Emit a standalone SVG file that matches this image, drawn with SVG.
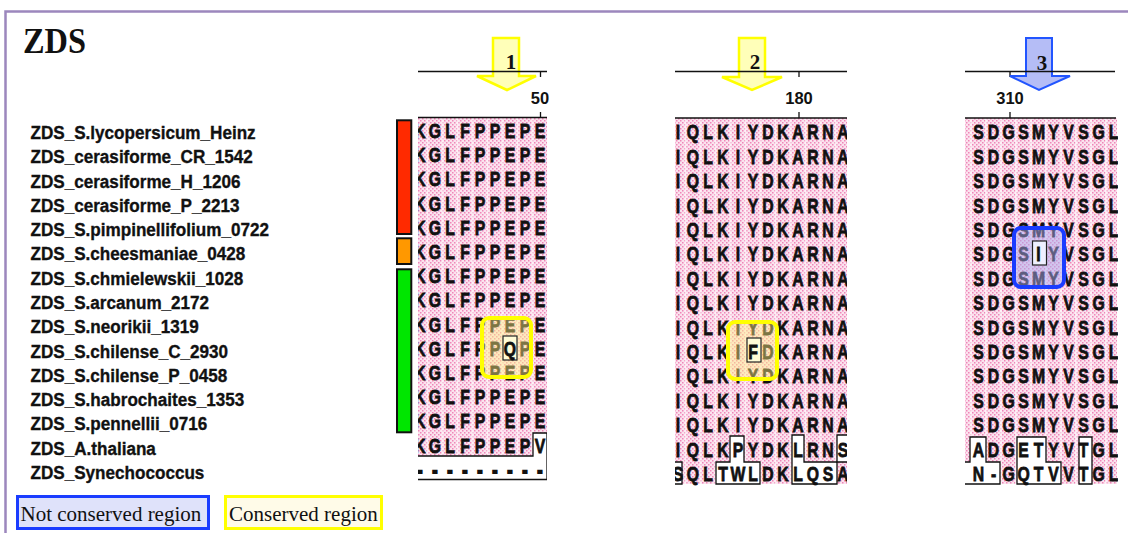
<svg xmlns="http://www.w3.org/2000/svg" width="1128" height="533" viewBox="0 0 1128 533">
<defs>
<style>
.ttl{font-family:"Liberation Serif","DejaVu Serif","Times New Roman",serif;font-weight:bold;font-size:36px;fill:#111}
.lab{font-family:"Liberation Sans",Arial,sans-serif;font-weight:bold;font-size:18.5px;fill:#111;stroke:#111;stroke-width:0.35}
.aa{font-family:"Liberation Sans",Arial,sans-serif;font-weight:bold;font-size:21px;fill:#111;stroke:#111;stroke-width:0.8;text-anchor:middle}
.dash{stroke-width:1.8}
.num{font-family:"Liberation Sans",Arial,sans-serif;font-weight:bold;font-size:16.5px;fill:#111;text-anchor:middle}
.an{font-family:"Liberation Serif","Times New Roman",serif;font-weight:bold;font-size:21px;fill:#111;text-anchor:middle}
.leg{font-family:"Liberation Serif","Times New Roman",serif;font-size:21px;fill:#111}
.ln{stroke:#111;stroke-width:1.3;fill:none}
.wb{fill:#fff;stroke:#111;stroke-width:1.3}
.st{stroke:#fff;stroke-opacity:.55;stroke-width:2}
.yb{fill:#ffef80;fill-opacity:.45;stroke:#ffff00;stroke-width:4}
.bb{fill:#a8a8ee;fill-opacity:.5;stroke:#1a3cff;stroke-width:4}
.ib{stroke:#222;stroke-width:1.2}
.bar{stroke:#111;stroke-width:2}
.ya{fill:#ffffa8;fill-opacity:.8;stroke:#ffff00;stroke-width:2.5}
.ba{fill:#a8b2f5;fill-opacity:.85;stroke:#2255ff;stroke-width:2}
</style>
<pattern id="pk" width="4" height="4" patternUnits="userSpaceOnUse"><rect width="4" height="4" fill="#fbe3ee"/><rect width="1.5" height="1.5" fill="#ef86b9"/><rect x="2" y="2" width="1.5" height="1.5" fill="#ef86b9"/></pattern>
<clipPath id="c1"><rect x="418" y="100" width="129" height="400"/></clipPath>
<clipPath id="c2"><rect x="675" y="100" width="172" height="400"/></clipPath>
<clipPath id="c3"><rect x="965" y="100" width="153" height="400"/></clipPath>
</defs>
<rect width="1128" height="533" fill="#fff"/>
<rect id="frame" x="5.5" y="11.5" width="1140" height="540" fill="none" stroke="#9c87bd" stroke-width="2.5"/>
<g id="title" transform="translate(23,53) scale(0.9,1)"><text class="ttl" x="0" y="0">ZDS</text></g>

<g id="labels" transform="scale(0.925,1)" class="lab">
<text x="33" y="139">ZDS_S.lycopersicum_Heinz</text>
<text x="33" y="163.3">ZDS_cerasiforme_CR_1542</text>
<text x="33" y="187.6">ZDS_cerasiforme_H_1206</text>
<text x="33" y="211.9">ZDS_cerasiforme_P_2213</text>
<text x="33" y="236.2">ZDS_S.pimpinellifolium_0722</text>
<text x="33" y="260.5">ZDS_S.cheesmaniae_0428</text>
<text x="33" y="284.7">ZDS_S.chmielewskii_1028</text>
<text x="33" y="309">ZDS_S.arcanum_2172</text>
<text x="33" y="333.3">ZDS_S.neorikii_1319</text>
<text x="33" y="357.6">ZDS_S.chilense_C_2930</text>
<text x="33" y="381.9">ZDS_S.chilense_P_0458</text>
<text x="33" y="406.2">ZDS_S.habrochaites_1353</text>
<text x="33" y="430.5">ZDS_S.pennellii_0716</text>
<text x="33" y="454.8">ZDS_A.thaliana</text>
<text x="33" y="479.1">ZDS_Synechococcus</text>
</g>

<g id="bars">
<rect class="bar" x="397" y="120.3" width="14.3" height="113.7" fill="#ff2a00"/>
<rect class="bar" x="397" y="238.3" width="14.3" height="25.7" fill="#ff9800"/>
<rect class="bar" x="397" y="269.3" width="14.3" height="163" fill="#00e600"/>
</g>

<g id="block1">
<g clip-path="url(#c1)">
<rect x="418" y="117.5" width="129" height="338.5" fill="url(#pk)"/>
<path class="st" d="M427.5,118V456M442.5,118V456M457.5,118V456M472.5,118V456M487.5,118V456M502.5,118V456M517.5,118V456M532.5,118V456"/>
<path class="wb" d="M418,456 H533 V433 H547 V479.5 H418"/>
<g class="aa" transform="scale(0.75,1)">
<text x="560 580 600 620 640 660 680 700 720" y="138">KGLFPPEPE</text>
<text x="560 580 600 620 640 660 680 700 720" y="162.2">KGLFPPEPE</text>
<text x="560 580 600 620 640 660 680 700 720" y="186.4">KGLFPPEPE</text>
<text x="560 580 600 620 640 660 680 700 720" y="210.6">KGLFPPEPE</text>
<text x="560 580 600 620 640 660 680 700 720" y="234.8">KGLFPPEPE</text>
<text x="560 580 600 620 640 660 680 700 720" y="259">KGLFPPEPE</text>
<text x="560 580 600 620 640 660 680 700 720" y="283.2">KGLFPPEPE</text>
<text x="560 580 600 620 640 660 680 700 720" y="307.4">KGLFPPEPE</text>
<text x="560 580 600 620 640 660 680 700 720" y="331.6">KGLFPPEPE</text>
<text x="560 580 600 620 640 660" y="355.8">KGLFPP</text>
<text x="700 720" y="355.8">PE</text>
<text x="560 580 600 620 640 660 680 700 720" y="380">KGLFPPEPE</text>
<text x="560 580 600 620 640 660 680 700 720" y="404.2">KGLFPPEPE</text>
<text x="560 580 600 620 640 660 680 700 720" y="428.4">KGLFPPEPE</text>
<text x="560 580 600 620 640 660 680 700 720" y="452.6">KGLFPPEPV</text>
<text class="dash" x="560 580 600 620 640 660 680 700 720" y="476.8">---------</text>
</g>
</g>
<line class="ln" x1="418" y1="117.5" x2="547" y2="117.5"/>
<rect class="yb" x="482" y="318" width="49" height="59" rx="7"/>
<rect class="ib" x="503" y="336" width="14" height="24" fill="#fffbd6"/>
<text class="aa" transform="scale(0.75,1)" x="680" y="355.8">Q</text>
<line class="ln" x1="540.5" y1="71.5" x2="540.5" y2="77"/>
<line class="ln" x1="540.5" y1="112" x2="540.5" y2="117.5"/>
<text class="num" x="540" y="104">50</text>
</g>

<g id="block2">
<g clip-path="url(#c2)">
<rect x="675" y="118" width="172" height="366" fill="url(#pk)"/>
<path class="st" d="M685.5,118V484M700.5,118V484M715.5,118V484M730.5,118V484M745.5,118V484M760.5,118V484M775.5,118V484M790.5,118V484M805.5,118V484M820.5,118V484M835.5,118V484"/>
<path class="wb" d="M675,462 H682 V484 H675"/>
<path class="wb" d="M730,436 H744 V462 H760 V484 H716 V462 H730 Z"/>
<path class="wb" d="M792,435 H804 V462 H837 V484 H792 Z"/>
<path class="wb" d="M837,435 H848 V462 H837 Z"/>
<g class="aa" transform="scale(0.75,1)">
<text x="904 924 944 964 984 1004 1024 1044 1064 1084 1104 1124" y="139.5">IQLKIYDKARNA</text>
<text x="904 924 944 964 984 1004 1024 1044 1064 1084 1104 1124" y="163.9">IQLKIYDKARNA</text>
<text x="904 924 944 964 984 1004 1024 1044 1064 1084 1104 1124" y="188.3">IQLKIYDKARNA</text>
<text x="904 924 944 964 984 1004 1024 1044 1064 1084 1104 1124" y="212.7">IQLKIYDKARNA</text>
<text x="904 924 944 964 984 1004 1024 1044 1064 1084 1104 1124" y="237.1">IQLKIYDKARNA</text>
<text x="904 924 944 964 984 1004 1024 1044 1064 1084 1104 1124" y="261.5">IQLKIYDKARNA</text>
<text x="904 924 944 964 984 1004 1024 1044 1064 1084 1104 1124" y="285.9">IQLKIYDKARNA</text>
<text x="904 924 944 964 984 1004 1024 1044 1064 1084 1104 1124" y="310.3">IQLKIYDKARNA</text>
<text x="904 924 944 964 984 1004 1024 1044 1064 1084 1104 1124" y="334.7">IQLKIYDKARNA</text>
<text x="904 924 944 964 984" y="359.1">IQLKI</text>
<text x="1024 1044 1064 1084 1104 1124" y="359.1">DKARNA</text>
<text x="904 924 944 964 984 1004 1024 1044 1064 1084 1104 1124" y="383.5">IQLKIYDKARNA</text>
<text x="904 924 944 964 984 1004 1024 1044 1064 1084 1104 1124" y="407.9">IQLKIYDKARNA</text>
<text x="904 924 944 964 984 1004 1024 1044 1064 1084 1104 1124" y="432.3">IQLKIYDKARNA</text>
<text x="904 924 944 964 984 1004 1024 1044 1064 1084 1104 1124" y="456.7">IQLKPYDKLRNS</text>
<text x="904 924 944 964 984 1004 1024 1044 1064 1084 1104 1124" y="481.1">SQLTWLDKLQSA</text>
</g>
</g>
<line class="ln" x1="675" y1="118" x2="847" y2="118"/>
<rect class="yb" x="728" y="322" width="49" height="57" rx="7"/>
<rect class="ib" x="747" y="338" width="14" height="24" fill="#fffbd6"/>
<text class="aa" transform="scale(0.75,1)" x="1004" y="359.1">F</text>
<line class="ln" x1="799" y1="71.5" x2="799" y2="77"/>
<line class="ln" x1="799" y1="112" x2="799" y2="118"/>
<text class="num" x="799" y="104">180</text>
</g>

<g id="block3">
<g clip-path="url(#c3)">
<rect x="965" y="118" width="152" height="366" fill="url(#pk)"/>
<path class="st" d="M971,118V484M986,118V484M1001,118V484M1016,118V484M1031,118V484M1046,118V484M1061,118V484M1076,118V484M1091,118V484M1106,118V484"/>
<path class="wb" d="M965,462 H970 V437 H986 V462 H1000 V484 H965"/>
<path class="wb" d="M1017,437 H1046 V462 H1061 V484 H1017 Z"/>
<path class="wb" d="M1079,437 H1092 V484 H1079 Z"/>
<g class="aa" transform="scale(0.75,1)">
<text x="1304.7 1324.7 1344.7 1364.7 1384.7 1404.7 1424.7 1444.7 1464.7 1484.7" y="139.5">SDGSMYVSGL</text>
<text x="1304.7 1324.7 1344.7 1364.7 1384.7 1404.7 1424.7 1444.7 1464.7 1484.7" y="163.9">SDGSMYVSGL</text>
<text x="1304.7 1324.7 1344.7 1364.7 1384.7 1404.7 1424.7 1444.7 1464.7 1484.7" y="188.3">SDGSMYVSGL</text>
<text x="1304.7 1324.7 1344.7 1364.7 1384.7 1404.7 1424.7 1444.7 1464.7 1484.7" y="212.7">SDGSMYVSGL</text>
<text x="1304.7 1324.7 1344.7 1364.7 1384.7 1404.7 1424.7 1444.7 1464.7 1484.7" y="237.1">SDGSMYVSGL</text>
<text x="1304.7 1324.7 1344.7 1364.7" y="261.5">SDGS</text>
<text x="1404.7 1424.7 1444.7 1464.7 1484.7" y="261.5">YVSGL</text>
<text x="1304.7 1324.7 1344.7 1364.7 1384.7 1404.7 1424.7 1444.7 1464.7 1484.7" y="285.9">SDGSMYVSGL</text>
<text x="1304.7 1324.7 1344.7 1364.7 1384.7 1404.7 1424.7 1444.7 1464.7 1484.7" y="310.3">SDGSMYVSGL</text>
<text x="1304.7 1324.7 1344.7 1364.7 1384.7 1404.7 1424.7 1444.7 1464.7 1484.7" y="334.7">SDGSMYVSGL</text>
<text x="1304.7 1324.7 1344.7 1364.7 1384.7 1404.7 1424.7 1444.7 1464.7 1484.7" y="359.1">SDGSMYVSGL</text>
<text x="1304.7 1324.7 1344.7 1364.7 1384.7 1404.7 1424.7 1444.7 1464.7 1484.7" y="383.5">SDGSMYVSGL</text>
<text x="1304.7 1324.7 1344.7 1364.7 1384.7 1404.7 1424.7 1444.7 1464.7 1484.7" y="407.9">SDGSMYVSGL</text>
<text x="1304.7 1324.7 1344.7 1364.7 1384.7 1404.7 1424.7 1444.7 1464.7 1484.7" y="432.3">SDGSMYVSGL</text>
<text x="1304.7 1324.7 1344.7 1364.7 1384.7 1404.7 1424.7 1444.7 1464.7 1484.7" y="456.7">ADGETYVTGL</text>
<text x="1304.7 1324.7 1344.7 1364.7 1384.7 1404.7 1424.7 1444.7 1464.7 1484.7" y="481.1">N-GQTVVTGL</text>
</g>
</g>
<line class="ln" x1="965" y1="118" x2="1116" y2="118"/>
<rect class="bb" x="1014" y="228" width="50" height="59" rx="7"/>
<rect class="ib" x="1032.5" y="241" width="14" height="24" fill="#eef0ff"/>
<text class="aa" transform="scale(0.75,1)" x="1384.7" y="261.5">I</text>
<line class="ln" x1="1010" y1="71.5" x2="1010" y2="77"/>
<line class="ln" x1="1010" y1="112" x2="1010" y2="118"/>
<text class="num" x="1010" y="104">310</text>
</g>

<g id="arrows">
<g id="arrow1"><polygon class="ya" points="493,38 519,38 519,76 536,76 507,90 477,76 493,76"/><text class="an" x="511" y="69">1</text></g>
<g id="arrow2"><polygon class="ya" points="739,38 765,38 765,77 782,77 752,90 722,77 739,77"/><text class="an" x="755" y="69">2</text></g>
<g id="arrow3"><polygon class="ba" points="1026,38 1052,38 1052,76 1070,76 1039,90 1010,76 1026,76"/><text class="an" x="1042" y="70">3</text></g>
<line class="ln" x1="418" y1="71.5" x2="547" y2="71.5"/>
<line class="ln" x1="675" y1="71.5" x2="847" y2="71.5"/>
<line class="ln" x1="965" y1="71.5" x2="1115" y2="71.5"/>
</g>

<g id="legend">
<g id="leg-not"><rect x="17.5" y="496.5" width="191" height="32" fill="#dfe2fa" stroke="#1a3cff" stroke-width="3"/><text class="leg" x="20.5" y="520.5">Not conserved region</text></g>
<g id="leg-cons"><rect x="225.5" y="496.5" width="156" height="32" fill="#fffbe8" stroke="#ffff00" stroke-width="3"/><text class="leg" x="229" y="520.5">Conserved region</text></g>
</g>
</svg>
